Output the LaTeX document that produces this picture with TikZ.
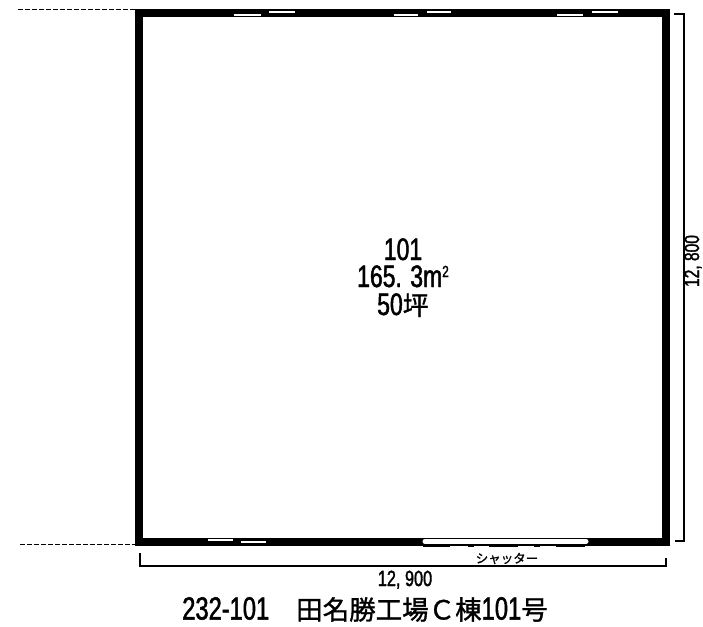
\documentclass[tikz,border=0pt]{standalone}
\usepackage{fontspec}
\setmainfont{Liberation Sans}
\newfontfamily\cjk[FakeBold=1.2]{Noto Sans CJK JP}
\newfontfamily\nar[FakeStretch=0.74,FakeBold=1.5]{Liberation Sans}
\tikzset{
  wall/.style={draw=black,line width=8pt,fill=white,miter limit=10},
  dim/.style={draw=black,line width=1.2pt},
  ext/.style={draw=black,line width=1pt,dash pattern=on 4.5pt off 2.5pt},
  winhi/.style={draw=white,line width=2pt},
  winlo/.style={draw=white,line width=2.2pt},
  shut/.style={draw=white,line width=5pt,line cap=round},
  rail/.style={draw=black,line width=1.1pt},
  txt/.style={inner sep=0pt,outer sep=0pt,text=black,anchor=base}
}
\begin{document}
\begin{tikzpicture}[x=1pt,y=-1pt]
\useasboundingbox (0,0) rectangle (703,626);
\fill[white] (0,0) rectangle (703,626);
% extension lines
\coordinate (et1) at (18,10);\coordinate (et2) at (135,10);
\coordinate (eb1) at (20,544);\coordinate (eb2) at (135,544);
\draw[ext] (et1) -- (et2);
\draw[ext] (eb1) -- (eb2);
% wall
\draw[wall] (138.5,13.5) rectangle (666,541.5);
% top windows
\draw[winlo] (234,14.7) -- (261,14.7);
\draw[winhi] (269,12.5) -- (295,12.5);
\draw[winlo] (394,14.7) -- (418,14.7);
\draw[winhi] (427,12.5) -- (451,12.5);
\draw[winlo] (557,14.7) -- (583,14.7);
\draw[winhi] (592,12.5) -- (618,12.5);
% bottom windows
\draw[winhi] (208,539.7) -- (233,539.7);
\draw[winhi] (241,541.7) -- (266,541.7);
% shutter
\draw[shut] (425,541.3) -- (586,541.3);
\draw[rail] (423,546.8) -- (450,546.8);
\draw[rail] (468,546.8) -- (474,546.8);
\draw[rail] (489,546.8) -- (518,546.8);
\draw[rail] (534,546.8) -- (540,546.8);
\draw[rail] (556,546.8) -- (585,546.8);
% dimensions
\coordinate (d1) at (140,553);\coordinate (d2) at (140,566);\coordinate (d3) at (666,566);\coordinate (d4) at (666,558);
\draw[dim] (d1) -- (d2) -- (d3) -- (d4);
\coordinate (r1) at (674,14);\coordinate (r2) at (684,14);\coordinate (r3) at (684,541);\coordinate (r4) at (675,541);
\draw[dim] (r1) -- (r2) -- (r3) -- (r4);
% texts
\node[txt] (n1) at (403,260) {\fontsize{31}{31}\selectfont\nar 101};
\node[txt] (n2) at (403,287) {\fontsize{31}{31}\selectfont\nar 165. 3m\raisebox{10pt}{\fontsize{16}{16}\selectfont 2}};
\node[txt] (n3) at (403,315) {\fontsize{31}{31}\selectfont\nar 50{\cjk\fontsize{26}{26}\selectfont 坪}};
\node[txt,rotate=90] (n4) at (699,261) {\fontsize{21}{21}\selectfont\nar 12, 800};
\node[txt] (n5) at (405,586) {\fontsize{22}{22}\selectfont\nar 12, 900};
\node[txt] (n6) at (507,563) {\cjk\fontsize{12.5}{12.5}\selectfont シャッター};
\node[txt] (n7) at (365,619.5) {\fontsize{32}{32}\selectfont\nar 232-101\hspace{27pt}{\cjk\fontsize{26.5}{26.5}\selectfont 田名勝工場Ｃ棟}101{\cjk\fontsize{26.5}{26.5}\selectfont 号}};
\end{tikzpicture}
\end{document}
